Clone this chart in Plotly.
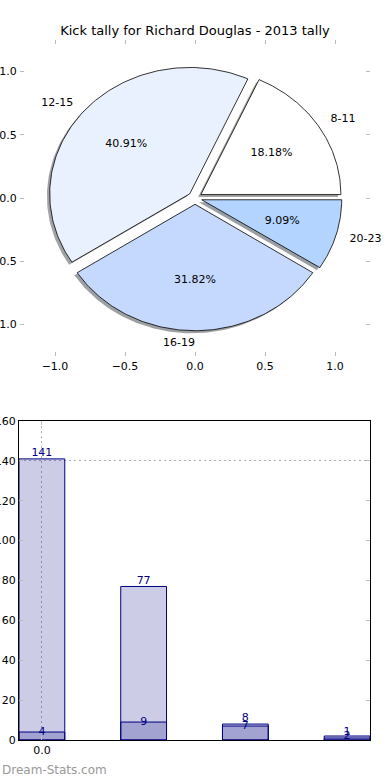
import numpy as np
import plotly.graph_objects as go

# ---- data ----
title = "Kick tally for Richard Douglas - 2013 tally"
pie_labels = ["8-11", "12-15", "16-19", "20-23"]
pie_values = [4, 9, 7, 2]
pie_colors = ["#ffffff", "#eaf1fe", "#c5d9fe", "#b3d4fe"]
explode = [0.05, 0.05, 0.05, 0.05]

bar_x = [0, 1, 2, 3]
bar_light = [141, 77, 8, 1]
bar_dark = [4, 9, 7, 2]
pie_ticks = [-1.0, -0.5, 0.0, 0.5, 1.0]
bar_yticks = [0, 20, 40, 60, 80, 100, 120, 140, 160]
bar_xticks = [0]
bar_xticktext = ["0.0"]
grid_y = [140]
watermark = "Dream-Stats.com"

FONT = "DejaVu Sans"
fig = go.Figure()

# ---- pie as polygons on cartesian axes ----
total = float(sum(pie_values))
fracs = [v / total for v in pie_values]
starts = np.cumsum([0] + fracs[:-1]) * 360.0
ends = starts + np.array(fracs) * 360.0


def wedge(t1, t2, cx, cy, r=1.0):
    th = np.radians(np.linspace(t1, t2, 120))
    xs = np.concatenate([[cx], cx + r * np.cos(th), [cx]])
    ys = np.concatenate([[cy], cy + r * np.sin(th), [cy]])
    return xs, ys


def hex_to_rgb(h):
    h = h.lstrip("#")
    return tuple(int(h[i:i + 2], 16) for i in (0, 2, 4))


centers = []
for i in range(len(pie_values)):
    mid = np.radians((starts[i] + ends[i]) / 2)
    centers.append((explode[i] * np.cos(mid), explode[i] * np.sin(mid), mid))

# shadows
for i in range(len(pie_values)):
    cx, cy, mid = centers[i]
    xs, ys = wedge(starts[i], ends[i], cx - 0.02, cy - 0.02)
    r, g, b = hex_to_rgb(pie_colors[i])
    fig.add_trace(go.Scatter(x=xs, y=ys, mode="lines", fill="toself",
                             fillcolor=f"rgba({int(r*0.3)},{int(g*0.3)},{int(b*0.3)},0.5)",
                             line=dict(width=0), hoverinfo="skip", showlegend=False,
                             xaxis="x", yaxis="y"))
# wedges
for i in range(len(pie_values)):
    cx, cy, mid = centers[i]
    xs, ys = wedge(starts[i], ends[i], cx, cy)
    fig.add_trace(go.Scatter(x=xs, y=ys, mode="lines", fill="toself",
                             fillcolor=pie_colors[i],
                             line=dict(color="black", width=0.8), hoverinfo="skip",
                             showlegend=False, xaxis="x", yaxis="y"))
# labels
for i in range(len(pie_values)):
    cx, cy, mid = centers[i]
    lx = cx + 1.1 * np.cos(mid)
    ly = cy + 1.1 * np.sin(mid)
    pos = "middle right" if np.cos(mid) > 0 else "middle left"
    fig.add_trace(go.Scatter(x=[lx], y=[ly], mode="text", text=[pie_labels[i]],
                             textposition=pos, textfont=dict(family=FONT, size=11, color="black"),
                             cliponaxis=False,
                             hoverinfo="skip", showlegend=False, xaxis="x", yaxis="y"))
    px = cx + 0.6 * np.cos(mid)
    py = cy + 0.6 * np.sin(mid)
    fig.add_trace(go.Scatter(x=[px], y=[py], mode="text", text=[f"{fracs[i]*100:.2f}%"],
                             textposition="middle center", cliponaxis=False,
                             textfont=dict(family=FONT, size=11, color="black"),
                             hoverinfo="skip", showlegend=False, xaxis="x", yaxis="y"))

# ---- bars ----
fig.add_trace(go.Bar(x=bar_x, y=bar_light, width=0.45, marker=dict(color="rgba(0,0,128,0.2)",
                     line=dict(color="#000080", width=1)), hoverinfo="skip", showlegend=False,
                     xaxis="x2", yaxis="y2"))
fig.add_trace(go.Bar(x=bar_x, y=bar_dark, width=0.45, marker=dict(color="rgba(0,0,128,0.2)",
                     line=dict(color="#000080", width=1)), hoverinfo="skip", showlegend=False,
                     xaxis="x2", yaxis="y2"))
fig.add_trace(go.Scatter(x=bar_x, y=bar_light, mode="text", text=[str(v) for v in bar_light],
                         textposition="top center", textfont=dict(family=FONT, size=11, color="#000080"),
                         cliponaxis=False,
                         hoverinfo="skip", showlegend=False, xaxis="x2", yaxis="y2"))
fig.add_trace(go.Scatter(x=bar_x, y=bar_dark, mode="text", text=[str(v) for v in bar_dark],
                         textposition="middle center", textfont=dict(family=FONT, size=11, color="#000080"),
                         cliponaxis=False,
                         hoverinfo="skip", showlegend=False, xaxis="x2", yaxis="y2"))

W, H = 390, 780
tickfont = dict(family=FONT, size=11, color="black")
fig.update_layout(
    width=W, height=H, margin=dict(l=0, r=0, t=0, b=0, autoexpand=False),
    paper_bgcolor="white", plot_bgcolor="rgba(0,0,0,0)",
    barmode="overlay",
    title=dict(text=title, x=0.5, xanchor="center", y=1 - 30 / H, yanchor="middle",
               font=dict(family=FONT, size=13, color="black"), automargin=False),
    xaxis=dict(domain=[20 / W, 370 / W], range=[-1.25, 1.25], tickvals=pie_ticks,
               tickformat=".1f", showgrid=False, zeroline=False, showline=True,
               linecolor="rgba(0,0,0,0)",
               ticks="inside", ticklen=4, tickcolor="#bbbbbb", mirror="ticks",
               tickfont=tickfont, anchor="y", automargin=False),
    yaxis=dict(domain=[(H - 356) / H, (H - 40) / H], range=[-1.25, 1.25], tickvals=pie_ticks,
               tickformat=".1f", showgrid=False, zeroline=False, showline=True,
               linecolor="rgba(0,0,0,0)",
               ticks="inside", ticklen=4, tickcolor="#bbbbbb", mirror="ticks",
               tickfont=tickfont, anchor="x", automargin=False),
    xaxis2=dict(domain=[19 / W, 370 / W], range=[-0.225, 3.225], tickvals=bar_xticks,
                ticktext=bar_xticktext, showgrid=True, griddash="2px,3px", gridcolor="#b0b0b0",
                gridwidth=1, zeroline=False, showline=True, linecolor="black", linewidth=1,
                mirror="ticks", ticks="inside", ticklen=4, tickcolor="#bbbbbb",
                tickfont=tickfont, anchor="y2", automargin=False),
    yaxis2=dict(domain=[40 / H, 359 / H], range=[0, 160], tickvals=bar_yticks,
                showgrid=False, zeroline=False, showline=True, linecolor="black", linewidth=1,
                mirror="ticks", ticks="inside", ticklen=4, tickcolor="#bbbbbb",
                tickfont=tickfont, anchor="x2", automargin=False),
    yaxis3=dict(domain=[40 / H, 359 / H], range=[0, 160], tickvals=grid_y, overlaying="y2",
                showticklabels=False, showgrid=True, griddash="2px,3px", gridcolor="#b0b0b0",
                zeroline=False, showline=False, ticks="", anchor="x2", automargin=False),
    annotations=[dict(text=watermark, x=0, y=(H - 770) / H, xref="paper", yref="paper",
                      xanchor="left", yanchor="middle", showarrow=False,
                      font=dict(family=FONT, size=12, color="#999999"))],
)
# dummy trace to activate yaxis3 grid
fig.add_trace(go.Scatter(x=[None], y=[None], xaxis="x2", yaxis="y3", showlegend=False, hoverinfo="skip"))

fig.write_html("out.html", config={"displayModeBar": False},
               post_script=("document.body.style.margin='0px';document.body.style.padding='0px';"
                            "document.body.style.overflow='hidden';"
                            "document.documentElement.style.overflow='hidden';"))
